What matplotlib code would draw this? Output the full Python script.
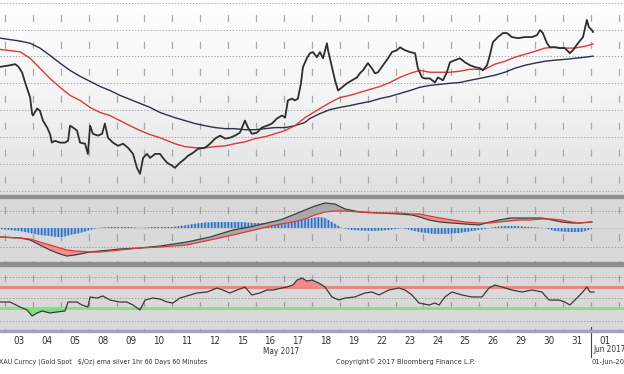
import numpy as np
import matplotlib
matplotlib.use('Agg')
import matplotlib.pyplot as plt
from matplotlib.lines import Line2D
from matplotlib.patches import Rectangle
from matplotlib.colors import LinearSegmentedColormap

plt.rcParams['lines.scale_dashes'] = False
plt.rcParams['font.family'] = ['DejaVu Sans']
plt.rcParams['font.stretch'] = 'condensed'

# ---------------- data (x = trading days since the open of 03 May) -------------
day_labels = ["03", "04", "05", "08", "09", "10", "11", "12", "15", "16", "17",
              "18", "19", "22", "23", "24", "25", "26", "29", "30", "31", "01"]

price_t = [-0.18, 0.18, 0.36, 0.47, 0.61, 0.72, 0.79, 0.90, 0.97, 1.00, 1.15, 1.25, 1.36, 1.51,
           1.61, 1.68, 1.79, 1.97, 2.15, 2.26, 2.33, 2.44, 2.58, 2.69, 2.87, 2.97, 3.05, 3.15,
           3.33, 3.48, 3.58, 3.69, 3.87, 4.05, 4.23, 4.41, 4.59, 4.73, 4.84, 4.95, 5.09, 5.20,
           5.38, 5.56, 5.66, 5.81, 5.99, 6.09, 6.27, 6.45, 6.56, 6.74, 6.92, 7.17, 7.35, 7.53,
           7.71, 7.89, 8.06, 8.24, 8.42, 8.60, 8.71, 8.85, 9.03, 9.21, 9.39, 9.57, 9.75, 9.93,
           10.04, 10.14, 10.29, 10.39, 10.50, 10.61, 10.68, 10.82, 10.93, 11.04, 11.18, 11.29,
           11.40, 11.54, 11.58, 11.72, 11.83, 11.94, 12.08, 12.26, 12.44, 12.62, 12.72, 12.83,
           13.01, 13.15, 13.26, 13.37, 13.55, 13.73, 13.87, 14.05, 14.16, 14.34, 14.52, 14.70,
           14.80, 14.95, 15.05, 15.23, 15.41, 15.52, 15.70, 15.84, 15.95, 16.13, 16.31, 16.49,
           16.67, 16.85, 17.03, 17.13, 17.28, 17.38, 17.49, 17.67, 17.85, 17.99, 18.17, 18.39,
           18.64, 18.89, 19.07, 19.18, 19.28, 19.43, 19.53, 19.71, 19.89, 20.07, 20.25, 20.36,
           20.54, 20.72, 20.86, 20.93, 21.04, 21.08]
price_v = [1256.1, 1256.7, 1257.1, 1256.3, 1254.1, 1250.3, 1248.1, 1244.7, 1238.7, 1238.0,
           1240.6, 1239.8, 1236.1, 1233.5, 1231.2, 1227.9, 1228.6, 1227.9, 1227.9, 1228.6,
           1234.2, 1233.5, 1232.4, 1227.9, 1227.5, 1223.7, 1234.2, 1231.2, 1230.5, 1231.2,
           1235.0, 1229.7, 1227.9, 1226.7, 1227.5, 1226.0, 1223.7, 1218.5, 1216.3, 1222.2,
           1223.7, 1222.2, 1223.7, 1223.7, 1222.2, 1220.4, 1219.3, 1218.5, 1220.4, 1221.9,
           1223.0, 1224.1, 1225.6, 1226.0, 1227.5, 1229.4, 1230.5, 1229.4, 1229.7, 1230.5,
           1231.6, 1236.1, 1233.5, 1231.2, 1231.6, 1233.5, 1234.2, 1235.0, 1236.9, 1238.0,
           1237.2, 1243.6, 1244.3, 1243.6, 1244.3, 1250.0, 1256.0, 1259.3, 1261.2, 1261.6,
           1259.7, 1261.6, 1259.3, 1264.9, 1262.3, 1256.0, 1251.1, 1247.3, 1248.5, 1250.0,
           1251.1, 1252.2, 1253.7, 1254.8, 1257.5, 1255.6, 1253.7, 1254.1, 1256.7, 1259.3,
           1261.6, 1262.3, 1263.4, 1262.3, 1261.6, 1261.2, 1255.6, 1252.2, 1251.8, 1251.8,
           1250.3, 1252.2, 1251.1, 1254.1, 1257.8, 1258.6, 1259.3, 1257.8, 1256.7, 1256.0,
           1255.6, 1254.8, 1256.7, 1260.4, 1265.3, 1267.2, 1268.7, 1268.7, 1267.2, 1266.8,
           1267.2, 1267.2, 1267.9, 1269.8, 1268.7, 1264.9, 1263.4, 1263.4, 1263.1, 1263.1,
           1261.2, 1262.3, 1264.9, 1267.2, 1273.6, 1270.9, 1269.8, 1269.1]

ema_t = [-0.18, 0.54, 0.90, 1.25, 1.61, 1.97, 2.33, 2.69, 3.05, 3.41, 3.76, 4.12, 4.48, 4.84,
         5.20, 5.56, 6.09, 6.45, 6.81, 7.17, 7.53, 7.89, 8.24, 8.60, 8.96, 9.32, 9.68, 10.04,
         10.39, 10.75, 10.93, 11.29, 11.65, 12.01, 12.37, 12.72, 13.08, 13.44, 13.80, 14.16,
         14.52, 14.87, 15.23, 15.59, 15.95, 16.31, 16.67, 17.20, 17.56, 17.92, 18.28, 18.64,
         19.00, 19.35, 19.71, 20.07, 20.43, 20.79, 21.08]
ema_fast = [1262.6, 1261.7, 1259.3, 1255.6, 1251.8, 1248.5, 1245.5, 1243.6, 1241.0, 1239.1,
            1238.0, 1236.1, 1234.2, 1232.4, 1230.9, 1229.7, 1227.5, 1226.4, 1226.0, 1226.0,
            1226.4, 1226.7, 1227.5, 1228.2, 1229.4, 1230.1, 1231.2, 1232.4, 1234.2, 1237.2,
            1238.3, 1240.6, 1242.8, 1244.7, 1245.5, 1246.6, 1247.7, 1248.8, 1250.3, 1252.2,
            1253.7, 1254.8, 1254.1, 1254.1, 1254.1, 1254.5, 1255.2, 1255.2, 1257.1, 1258.2,
            1259.7, 1260.8, 1261.9, 1263.1, 1263.4, 1263.1, 1263.1, 1263.8, 1264.6]
ema_slow = [1266.8, 1265.7, 1264.9, 1263.1, 1260.4, 1257.5, 1254.8, 1252.6, 1250.7, 1248.8,
            1247.3, 1245.5, 1244.0, 1242.5, 1241.0, 1239.1, 1237.2, 1236.1, 1235.0, 1234.2,
            1233.5, 1233.1, 1233.1, 1232.7, 1232.7, 1233.1, 1233.5, 1233.5, 1234.2, 1235.4,
            1236.9, 1238.7, 1240.2, 1241.0, 1241.7, 1242.5, 1243.2, 1244.3, 1245.1, 1246.2,
            1247.3, 1248.5, 1249.2, 1249.6, 1250.0, 1250.3, 1251.1, 1252.2, 1253.0, 1254.1,
            1255.6, 1256.7, 1257.5, 1258.2, 1258.6, 1258.9, 1259.3, 1259.7, 1260.1]

macd_t = [-0.18, 0.54, 0.90, 1.25, 1.61, 1.97, 2.22, 2.51, 3.05, 3.41, 4.12, 4.84, 5.56, 6.52,
          7.35, 8.17, 8.78, 9.39, 9.86, 10.32, 10.75, 11.11, 11.47, 11.83, 12.19, 12.72, 13.41,
          14.16, 14.59, 14.87, 15.20, 15.59, 16.02, 16.49, 16.99, 17.38, 17.71, 18.10, 18.42,
          18.82, 19.25, 19.61, 19.96, 20.32, 20.57, 21.04]
macd_line = [-0.9, -1.0, -1.2, -1.7, -2.2, -2.6, -2.8, -2.7, -2.4, -2.3, -2.1, -2.0, -1.8, -1.4,
             -0.9, -0.2, 0.1, 0.5, 0.8, 1.3, 1.8, 2.2, 2.5, 2.4, 1.9, 1.6, 1.5, 1.4, 1.3, 1.1,
             0.8, 0.6, 0.5, 0.4, 0.3, 0.6, 0.8, 1.0, 1.0, 1.0, 1.0, 0.8, 0.6, 0.5, 0.5, 0.6]
signal_line = [-0.9, -1.0, -1.1, -1.4, -1.7, -2.0, -2.2, -2.3, -2.4, -2.4, -2.2, -2.0, -1.9,
               -1.7, -1.2, -0.7, -0.3, 0.1, 0.4, 0.6, 0.9, 1.3, 1.6, 1.7, 1.7, 1.6, 1.5, 1.5,
               1.4, 1.4, 1.2, 1.0, 0.8, 0.6, 0.5, 0.5, 0.6, 0.7, 0.8, 0.8, 0.9, 0.9, 0.8, 0.6,
               0.5, 0.6]

hist_t = [-0.18, 0.54, 0.90, 1.25, 1.61, 1.86, 2.08, 2.33, 2.69, 3.05, 3.30, 3.76, 4.48, 4.84,
          5.30, 6.02, 6.52, 6.99, 7.46, 7.96, 8.42, 8.89, 9.39, 9.86, 10.32, 10.82, 11.00,
          11.25, 11.47, 11.72, 11.90, 12.08, 12.44, 13.15, 13.76, 14.23, 14.84, 15.41, 15.77,
          16.27, 16.74, 17.20, 17.56, 17.92, 18.28, 18.78, 19.35, 19.71, 20.22, 20.68, 21.04]
hist_v = [-0.1, -0.3, -0.5, -0.7, -0.8, -0.9, -0.9, -0.7, -0.5, -0.2, 0.0, 0.1, 0.1, 0.0, 0.1,
          0.1, 0.3, 0.5, 0.6, 0.6, 0.6, 0.5, 0.5, 0.5, 0.7, 0.9, 1.0, 1.1, 1.0, 0.6, 0.3, 0.0,
          -0.2, -0.3, -0.2, 0.0, -0.4, -0.6, -0.6, -0.5, -0.3, -0.1, 0.1, 0.2, 0.2, 0.1, 0.0,
          -0.3, -0.4, -0.4, -0.1]

rsi_t = [-0.18, 0.18, 0.54, 0.79, 0.97, 1.15, 1.33, 1.61, 1.86, 2.15, 2.26, 2.58, 2.76, 2.97,
         3.05, 3.30, 3.51, 3.76, 4.12, 4.37, 4.59, 4.84, 5.02, 5.30, 5.56, 5.81, 6.02, 6.27,
         6.52, 6.88, 7.24, 7.60, 7.81, 8.06, 8.32, 8.60, 8.85, 9.14, 9.39, 9.61, 9.93, 10.11,
         10.32, 10.47, 10.65, 10.82, 11.00, 11.25, 11.47, 11.72, 11.97, 12.19, 12.54, 12.90,
         13.15, 13.41, 13.76, 14.12, 14.34, 14.59, 14.84, 15.20, 15.41, 15.56, 15.77, 16.02,
         16.38, 16.74, 17.10, 17.35, 17.56, 17.81, 18.17, 18.53, 18.89, 19.25, 19.50, 19.86,
         20.07, 20.25, 20.43, 20.68, 20.86, 20.97, 21.11]
rsi_v = [41.4, 41.4, 31.9, 26.2, 14.8, 20.5, 24.3, 20.5, 22.4, 24.3, 41.4, 41.4, 35.7, 31.9,
         51.0, 49.0, 52.9, 45.2, 41.4, 41.4, 35.7, 26.2, 45.2, 49.0, 47.1, 41.4, 39.5, 49.0,
         52.9, 58.6, 60.5, 68.1, 64.3, 58.6, 64.3, 70.0, 54.8, 58.6, 64.3, 64.3, 68.1, 70.0,
         73.8, 83.3, 87.1, 81.4, 83.3, 77.6, 70.0, 51.0, 45.2, 49.0, 51.0, 58.6, 60.5, 54.8,
         64.3, 68.1, 64.3, 54.8, 39.5, 35.7, 39.5, 35.7, 51.0, 60.5, 54.8, 51.0, 51.0, 68.1,
         73.8, 70.0, 64.3, 60.5, 64.3, 60.5, 45.2, 45.2, 41.4, 35.7, 45.2, 58.6, 70.0, 60.5,
         60.5]
rsi_upper = 70
rsi_lower = 30

footer_left = "XAU Curncy (Gold Spot   $/Oz) ema silver 1hr 60 Days 60 Minutes"
footer_mid = "Copyright\u00a9 2017 Bloomberg Finance L.P."
footer_right = "01-Jun-2017"
month_label = "May 2017"
next_month_label = "Jun 2017"

# ---------------- layout ----------------
W, H = 624, 374
fig = plt.figure(figsize=(W / 100, H / 100), dpi=100)
fig.patch.set_facecolor('white')


def fy(px):
    return 1 - px / H


XLIM = (-0.18, 22.19)
ax1 = fig.add_axes([0, fy(195), 1, 195 / H])
ax2 = fig.add_axes([0, fy(262), 1, (262 - 198) / H])
ax3 = fig.add_axes([0, fy(330), 1, (330 - 266) / H])

for ax in (ax1, ax2, ax3):
    ax.set_xlim(*XLIM)
    for s in ax.spines.values():
        s.set_visible(False)
    ax.tick_params(left=False, labelleft=False, bottom=False, labelbottom=False)

grid_col = '#a8a8a8'
vdash = (10.8, (5.0, 14.4))

# ---- top panel ----
ax1.set_ylim(1208.4, 1281.0)
cmap = LinearSegmentedColormap.from_list('bg', ['#ffffff', '#f4f4f4', '#e0e0e0'])
ax1.imshow(np.linspace(0, 1, 200).reshape(-1, 1), cmap=cmap, aspect='auto',
           extent=[XLIM[0], XLIM[1], 1208.4, 1281.0], origin='upper', zorder=0)
for lvl in range(1210, 1290, 10):
    ax1.axhline(lvl, color=grid_col, lw=0.7, ls=(0, (1, 1.2)), zorder=1)
for b in range(0, 23):
    ax1.axvline(b, color=grid_col, lw=0.9, ls=vdash, zorder=1)
ax1.plot(ema_t, ema_slow, color='#2a3148', lw=1.0, zorder=3)
ax1.plot(ema_t, ema_fast, color='#d93a3c', lw=1.0, zorder=3)
ax1.plot(price_t, price_v, color='#2e2e2e', lw=1.3, zorder=4)

# ---- MACD panel ----
ax2.set_ylim(-3.4, 3.0)
ax2.set_facecolor('#d9d9d9')
for lvl in (1.7, -1.9):
    ax2.axhline(lvl, color='#a0a0a0', lw=0.7, ls=(0, (1, 1.2)), zorder=1)
for b in range(0, 23):
    ax2.axvline(b, color='#a0a0a0', lw=0.9, ls=(4, (5.0, 14.4)), zorder=1)
ax2.axhline(0, color='#c8c8c8', lw=0.8, zorder=1)
ax2.fill_between(hist_t, 0, hist_v, facecolor='#9fc0e6', edgecolor='#2f66b0',
                 hatch='|||||', lw=0, zorder=2)
m = np.array(macd_line)
s = np.array(signal_line)
ax2.fill_between(macd_t, m, s, where=s >= m, interpolate=True, color='#f08f8f', lw=0, zorder=3)
ax2.fill_between(macd_t, m, s, where=m >= s, interpolate=True, color='#a9a9a9', lw=0, zorder=3)
ax2.plot(macd_t, macd_line, color='#404040', lw=0.9, zorder=4)
ax2.plot(macd_t, signal_line, color='#d93a3c', lw=0.9, zorder=4)

# ---- RSI panel ----
ax3.set_ylim(-11.9, 110)
ax3.set_facecolor('#d9d9d9')
for lvl in (90, 50, 5):
    ax3.axhline(lvl, color='#a0a0a0', lw=0.7, ls=(0, (1, 1.2)), zorder=1)
for b in range(0, 23):
    ax3.axvline(b, color='#a0a0a0', lw=0.9, ls=(4, (5.0, 14.4)), zorder=1)
ax3.axhline(rsi_upper, color='#e58a8a', lw=2.2, zorder=2)
ax3.axhline(rsi_lower, color='#86e086', lw=2.2, zorder=2)
r = np.array(rsi_v)
ax3.fill_between(rsi_t, rsi_upper, r, where=r >= rsi_upper, interpolate=True,
                 color='#f08a8a', lw=0, zorder=3)
ax3.fill_between(rsi_t, rsi_lower, r, where=r <= rsi_lower, interpolate=True,
                 color='#7fe07f', lw=0, zorder=3)
ax3.plot(rsi_t, rsi_v, color='#3a3a3a', lw=0.9, zorder=4)

# day labels
ax3.set_xticks(np.arange(len(day_labels)) + 0.5)
ax3.set_xticklabels(day_labels, fontsize=7.0, color='#333333', fontstretch='condensed')
ax3.tick_params(bottom=False, labelbottom=True, pad=0.8)

# separators
for top, hgt, col in ((195, 3, '#8f8f8f'), (262, 4, '#8f8f8f'), (330, 1.5, '#a3a3c4')):
    fig.add_artist(Rectangle((0, fy(top + hgt)), 1, hgt / H, transform=fig.transFigure,
                             color=col, zorder=5))


def xf(d):
    return (d - XLIM[0]) / (XLIM[1] - XLIM[0])


txt = dict(color='#333333', fontstretch='condensed', va='center')
fig.text(xf(10.5) + 1 / W, fy(351), month_label, ha='right', fontsize=5.9, **txt)
fig.add_artist(Line2D([xf(21.0)] * 2, [fy(327), fy(357)], transform=fig.transFigure,
                      color='#444444', lw=0.8))
fig.text(xf(21.0) + 3 / W, fy(350), next_month_label, ha='left', fontsize=5.9, **txt)

fig.text(-1 / W, fy(362), footer_left, ha='left', fontsize=5.0, **txt)
fig.text(336 / W, fy(362), footer_mid, ha='left', fontsize=5.4, **txt)
fig.text(592 / W, fy(362), footer_right, ha='left', fontsize=5.4, **txt)

fig.savefig('out.png', dpi=100, facecolor='white')
